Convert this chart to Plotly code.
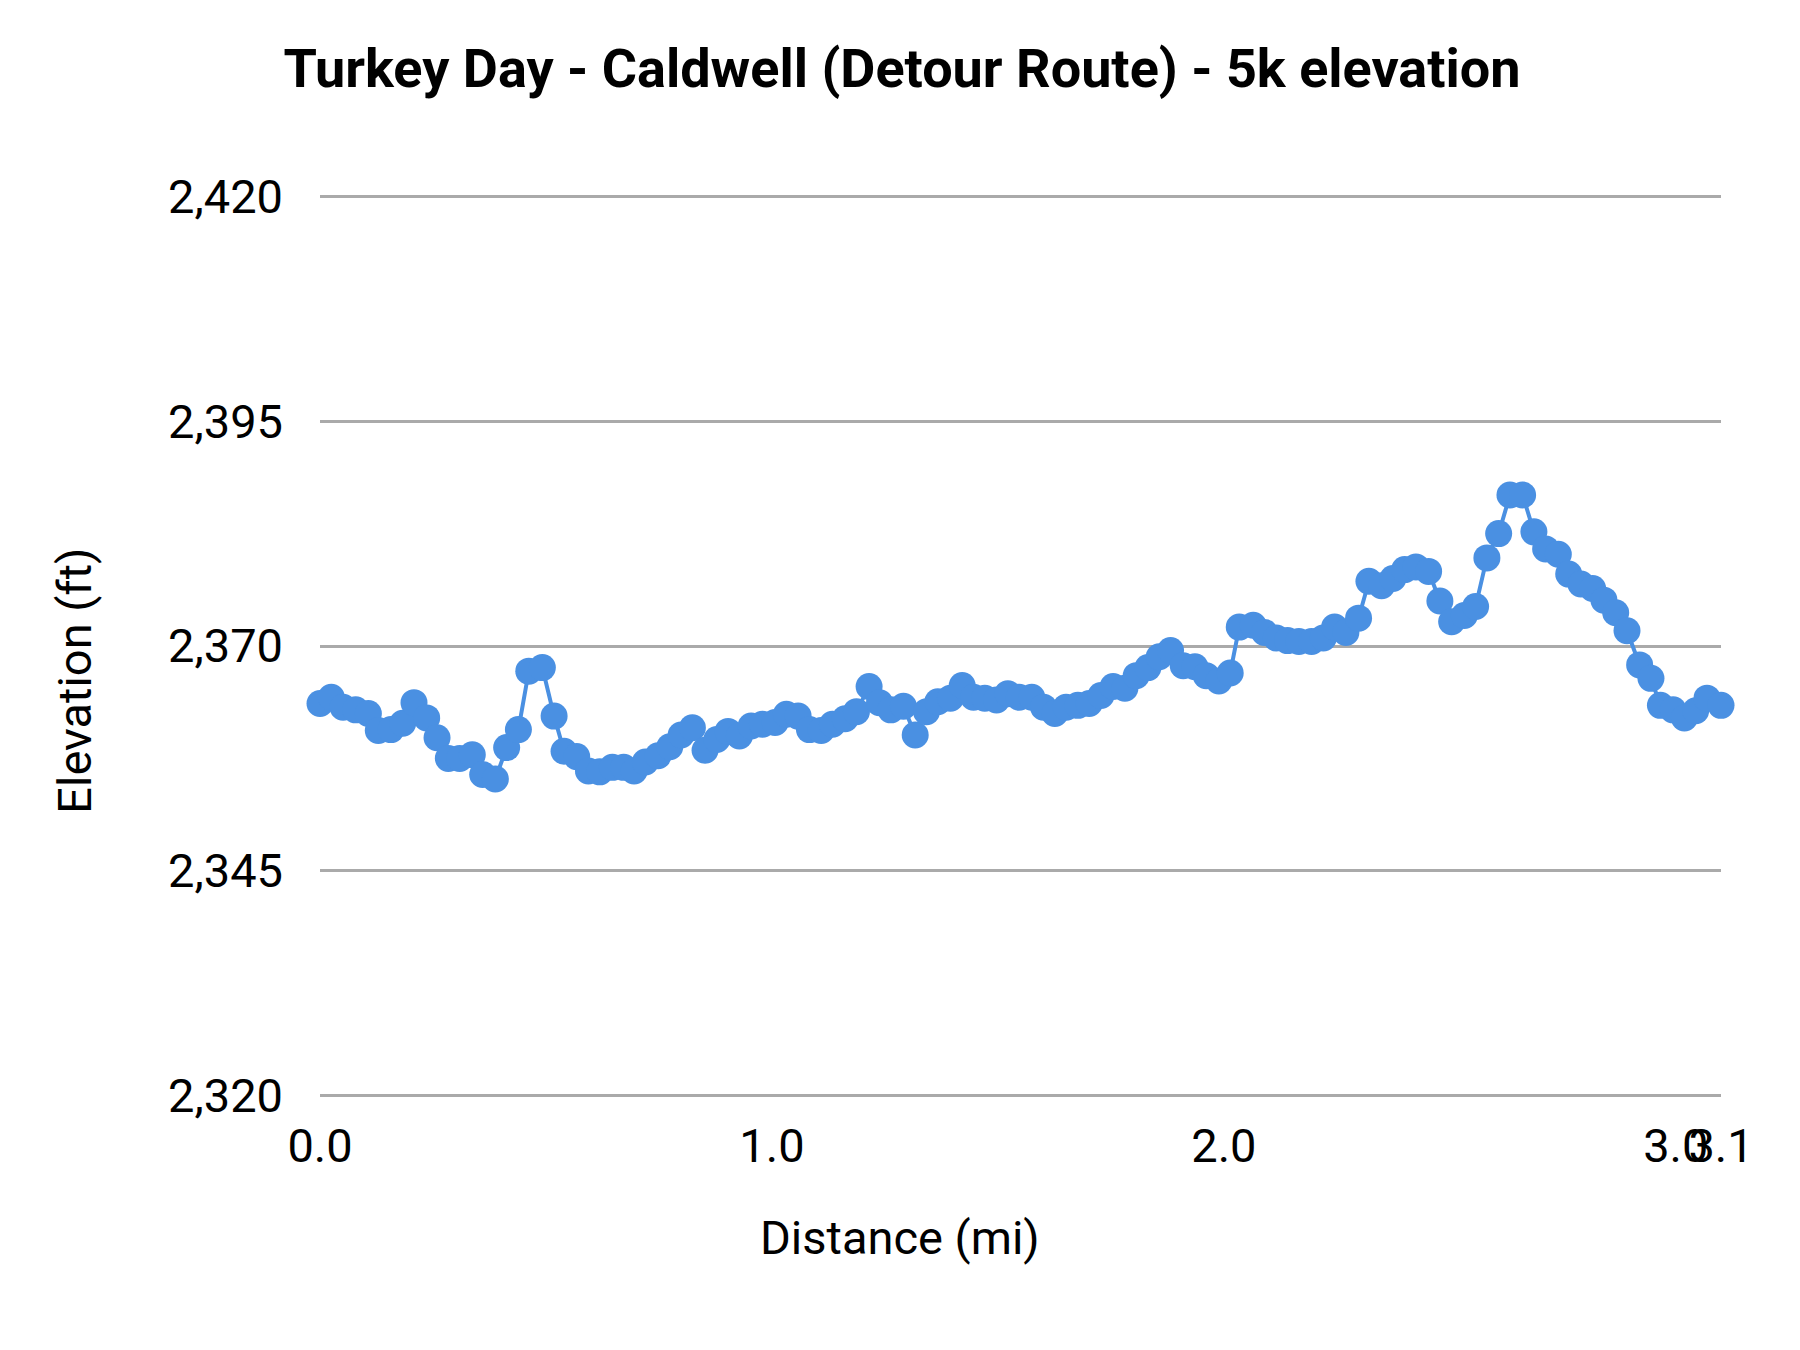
import plotly.graph_objects as go

# distance along the route (mi)
distance_mi = [
    0.000, 0.025, 0.051, 0.079, 0.107, 0.129, 0.157, 0.183, 0.208, 0.236,
    0.259, 0.284, 0.309, 0.337, 0.360, 0.388, 0.413, 0.439, 0.462, 0.492,
    0.518, 0.540, 0.568, 0.594, 0.619, 0.647, 0.672, 0.695, 0.720, 0.748,
    0.774, 0.799, 0.824, 0.852, 0.878, 0.903, 0.928, 0.954, 0.979, 1.007,
    1.032, 1.058, 1.083, 1.109, 1.134, 1.162, 1.187, 1.215, 1.238, 1.263,
    1.291, 1.317, 1.342, 1.367, 1.395, 1.421, 1.446, 1.471, 1.497, 1.522,
    1.547, 1.575, 1.601, 1.626, 1.651, 1.677, 1.702, 1.728, 1.755, 1.781,
    1.806, 1.832, 1.857, 1.882, 1.910, 1.936, 1.961, 1.989, 2.014, 2.034,
    2.065, 2.090, 2.116, 2.141, 2.166, 2.194, 2.220, 2.245, 2.270, 2.298,
    2.321, 2.349, 2.374, 2.400, 2.425, 2.453, 2.478, 2.504, 2.532, 2.557,
    2.582, 2.608, 2.633, 2.661, 2.686, 2.712, 2.740, 2.763, 2.790, 2.816,
    2.841, 2.867, 2.892, 2.920, 2.945, 2.966, 2.994, 3.019, 3.044, 3.069,
    3.100,
]

# elevation (ft)
elevation_ft = [
    2363.6, 2364.3, 2363.2, 2362.9, 2362.5, 2360.6, 2360.7, 2361.4, 2363.7, 2362.0,
    2359.8, 2357.5, 2357.5, 2357.9, 2355.7, 2355.2, 2358.7, 2360.7, 2367.2, 2367.6,
    2362.2, 2358.3, 2357.7, 2356.1, 2356.0, 2356.5, 2356.5, 2356.1, 2357.1, 2357.8,
    2358.8, 2360.1, 2360.9, 2358.4, 2359.6, 2360.5, 2360.0, 2361.1, 2361.3, 2361.5,
    2362.4, 2362.2, 2360.7, 2360.6, 2361.3, 2361.9, 2362.7, 2365.5, 2363.7, 2362.9,
    2363.3, 2360.1, 2362.7, 2363.8, 2364.2, 2365.6, 2364.3, 2364.2, 2364.0, 2364.7,
    2364.3, 2364.3, 2363.2, 2362.5, 2363.2, 2363.4, 2363.6, 2364.5, 2365.5, 2365.3,
    2366.7, 2367.6, 2368.8, 2369.5, 2367.8, 2367.7, 2366.7, 2366.1, 2367.0, 2372.1,
    2372.3, 2371.5, 2370.9, 2370.6, 2370.5, 2370.5, 2370.9, 2372.1, 2371.5, 2373.1,
    2377.2, 2376.7, 2377.5, 2378.5, 2378.8, 2378.3, 2375.0, 2372.7, 2373.4, 2374.4,
    2379.8, 2382.5, 2386.8, 2386.8, 2382.7, 2380.8, 2380.2, 2378.0, 2376.9, 2376.4,
    2375.1, 2373.7, 2371.7, 2367.9, 2366.4, 2363.4, 2362.9, 2362.0, 2362.8, 2364.2,
    2363.4,
]

x_tick_vals = [0, 1, 2, 3, 3.1]
x_tick_text = ["0.0", "1.0", "2.0", "3.0", "3.1"]
y_tick_vals = [2320, 2345, 2370, 2395, 2420]

fig = go.Figure()
fig.add_trace(go.Scatter(
    x=distance_mi, y=elevation_ft, mode="lines+markers",
    line=dict(color="#4a90e2", width=4),
    marker=dict(color="#4a90e2", size=27),
    showlegend=False, cliponaxis=False,
))

fig.update_layout(
    width=1800, height=1350,
    paper_bgcolor="white", plot_bgcolor="white",
    margin=dict(l=312, r=87, t=184, b=258),
    font=dict(family="Roboto", size=47, color="#000000"),
    title=dict(text="<b>Turkey Day - Caldwell (Detour Route) - 5k elevation</b>",
               x=0.4967, xanchor="center", y=1 - 60 / 1350, yanchor="middle",
               font=dict(family="Roboto", size=54, color="#000000")),
)

# axis titles are centred on the whole chart, not on the plot area
fig.add_annotation(text="Distance (mi)", xref="paper", yref="paper",
                   x=0.414, y=-0.184, showarrow=False,
                   font=dict(family="Roboto", size=47, color="#000000"))
fig.add_annotation(text="Elevation (ft)", xref="paper", yref="paper",
                   x=-0.1965, y=0.462, showarrow=False, textangle=-90,
                   font=dict(family="Roboto", size=47, color="#000000"))

fig.update_xaxes(
    range=[0, 3.1], tickvals=x_tick_vals, ticktext=x_tick_text, tickangle=0,
    showgrid=False, zeroline=False, showline=False,
    ticks="", ticklabelstandoff=14,
)
fig.update_yaxes(
    range=[2319.5, 2420.5], tickvals=y_tick_vals, tickformat=",",
    showgrid=True, gridcolor="#aaaaaa", gridwidth=2.5,
    zeroline=False, showline=False, ticks="", ticklabelstandoff=36,
)

fig.write_html("out.html")
